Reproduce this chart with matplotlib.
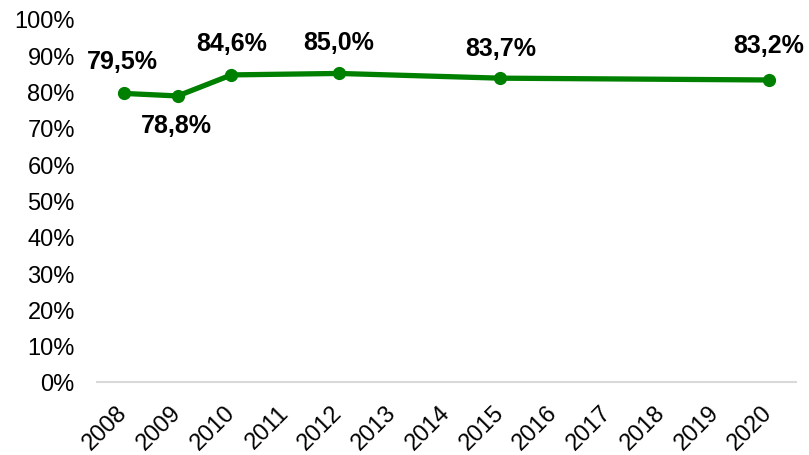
import matplotlib.pyplot as plt

years = ['2008', '2009', '2010', '2011', '2012', '2013', '2014',
         '2015', '2016', '2017', '2018', '2019', '2020']
point_years = ['2008', '2009', '2010', '2012', '2015', '2020']
values = [79.5, 78.8, 84.6, 85.0, 83.7, 83.2]
labels = ['79,5%', '78,8%', '84,6%', '85,0%', '83,7%', '83,2%']
# label offsets in points (dx, dy)
offsets = [(-1, 23), (-1, -21), (0, 23), (0, 23), (0, 22), (0, 25)]

plt.rcParams['font.family'] = ['Liberation Sans', 'DejaVu Sans']

fig = plt.figure(figsize=(8.09, 4.56), dpi=100)
ax = fig.add_axes([97 / 809, 73 / 456, 699 / 809, 363 / 456])

xs = [years.index(y) for y in point_years]
green = '#008000'
ax.plot(xs, values, color=green, lw=3.8, marker='o', ms=8.5,
        solid_capstyle='round', zorder=3)

for x, v, lab, (dx, dy) in zip(xs, values, labels, offsets):
    ax.annotate(lab, (x, v), xytext=(dx, dy), textcoords='offset points',
                ha='center', va='center', fontsize=18, fontweight='bold')

ax.set_xlim(-0.5, 12.5)
ax.set_ylim(0, 100)
ax.set_yticks(range(0, 101, 10))
ax.set_yticklabels([f'{t}%' for t in range(0, 101, 10)], fontsize=17)
ax.set_xticks(range(len(years)))
ax.set_xticklabels(years, fontsize=17, rotation=45, ha='right',
                   va='center', rotation_mode='anchor')

for s in ['top', 'right', 'left']:
    ax.spines[s].set_visible(False)
ax.spines['bottom'].set_color('#d9d9d9')
ax.spines['bottom'].set_linewidth(1.5)
ax.tick_params(axis='y', length=0, pad=16)
ax.tick_params(axis='x', length=0, pad=19)

fig.savefig('out.png', dpi=100)
